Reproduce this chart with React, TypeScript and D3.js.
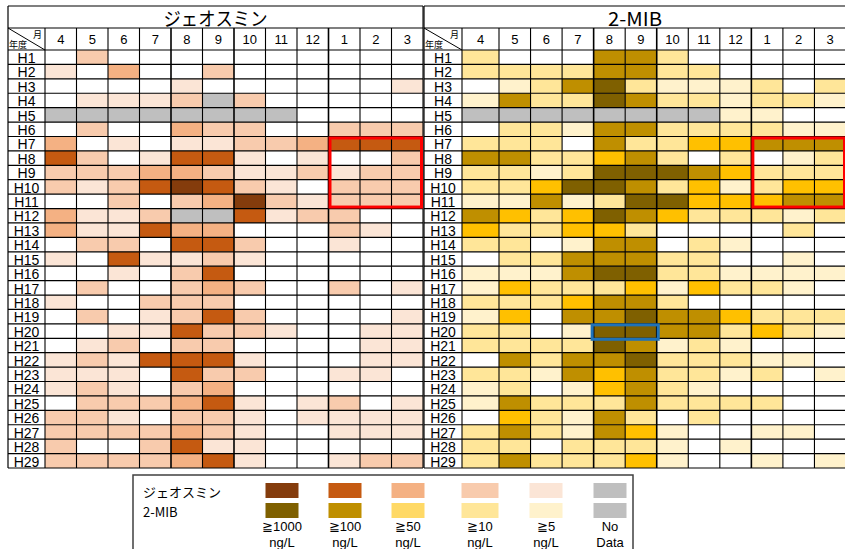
import React from "react";
import * as d3 from "d3";

const months = ["4", "5", "6", "7", "8", "9", "10", "11", "12", "1", "2", "3"];
const years = Array.from({ length: 29 }, (_, i) => `H${i + 1}`);

// level codes: 0 (<5), 1 (>=5), 2 (>=10), 3 (>=50), 4 (>=100), 5 (>=1000), 9 no data
const geosmin: number[][] = [
  [0, 2, 0, 0, 0, 0, 0, 0, 0, 0, 0, 0],
  [1, 0, 3, 0, 0, 2, 0, 0, 0, 0, 0, 0],
  [0, 0, 0, 0, 1, 0, 0, 0, 0, 0, 0, 1],
  [0, 1, 1, 1, 2, 9, 2, 0, 0, 0, 0, 0],
  [9, 9, 9, 9, 9, 9, 9, 9, 0, 0, 0, 0],
  [0, 2, 0, 0, 3, 2, 2, 0, 0, 2, 2, 2],
  [3, 0, 1, 0, 1, 1, 2, 2, 3, 4, 4, 4],
  [4, 2, 0, 1, 4, 4, 1, 0, 1, 0, 0, 2],
  [2, 2, 2, 3, 3, 2, 1, 1, 2, 1, 2, 2],
  [2, 1, 2, 4, 5, 4, 2, 1, 0, 2, 2, 2],
  [0, 0, 2, 0, 2, 3, 5, 2, 1, 2, 2, 2],
  [3, 1, 1, 2, 9, 9, 4, 1, 2, 2, 0, 0],
  [3, 1, 1, 4, 3, 3, 0, 0, 0, 2, 1, 0],
  [0, 2, 2, 0, 4, 4, 2, 0, 0, 1, 0, 0],
  [1, 0, 4, 1, 1, 2, 1, 0, 0, 0, 0, 0],
  [0, 0, 1, 0, 2, 4, 0, 0, 0, 0, 0, 0],
  [0, 2, 0, 0, 2, 3, 2, 0, 0, 2, 0, 1],
  [1, 0, 0, 2, 2, 2, 0, 0, 0, 0, 0, 0],
  [0, 2, 0, 1, 2, 4, 2, 0, 0, 0, 0, 1],
  [0, 0, 1, 1, 4, 2, 2, 1, 0, 0, 1, 1],
  [0, 1, 2, 0, 2, 2, 0, 0, 0, 0, 1, 1],
  [1, 2, 1, 4, 4, 4, 1, 0, 0, 0, 1, 1],
  [1, 1, 1, 0, 4, 2, 2, 0, 0, 1, 1, 0],
  [1, 2, 1, 0, 2, 3, 0, 0, 0, 0, 0, 0],
  [0, 2, 2, 2, 3, 4, 1, 0, 1, 2, 0, 1],
  [2, 2, 1, 0, 2, 2, 1, 0, 1, 1, 1, 1],
  [2, 2, 2, 2, 3, 2, 1, 0, 0, 1, 1, 1],
  [2, 0, 0, 2, 4, 1, 1, 0, 0, 0, 0, 0],
  [2, 2, 2, 2, 3, 4, 1, 0, 0, 1, 2, 2],
];

const mib: number[][] = [
  [2, 0, 0, 0, 4, 4, 2, 0, 0, 0, 0, 0],
  [2, 2, 2, 2, 4, 4, 2, 2, 0, 0, 0, 0],
  [0, 1, 2, 4, 5, 2, 1, 1, 1, 2, 0, 2],
  [1, 4, 2, 2, 5, 4, 2, 2, 1, 2, 2, 1],
  [9, 9, 9, 9, 9, 9, 9, 9, 1, 1, 0, 0],
  [0, 2, 2, 1, 4, 4, 2, 2, 2, 2, 1, 1],
  [2, 2, 2, 0, 4, 2, 2, 3, 3, 4, 4, 4],
  [4, 4, 2, 2, 3, 4, 2, 0, 2, 0, 1, 2],
  [2, 2, 1, 2, 5, 5, 5, 4, 3, 2, 2, 2],
  [2, 2, 3, 5, 5, 4, 2, 3, 1, 2, 3, 3],
  [1, 1, 4, 1, 2, 5, 5, 3, 3, 3, 4, 4],
  [4, 3, 2, 3, 5, 4, 3, 2, 2, 2, 1, 2],
  [3, 2, 2, 3, 3, 2, 0, 0, 0, 0, 2, 0],
  [2, 2, 0, 1, 4, 4, 0, 2, 1, 0, 0, 0],
  [0, 2, 2, 4, 4, 4, 2, 2, 0, 0, 1, 0],
  [1, 1, 1, 4, 5, 5, 2, 2, 1, 1, 1, 1],
  [1, 3, 2, 2, 2, 3, 1, 3, 2, 2, 1, 0],
  [2, 2, 2, 3, 4, 4, 2, 0, 0, 0, 0, 0],
  [1, 3, 0, 4, 4, 5, 4, 4, 3, 2, 2, 2],
  [2, 2, 0, 1, 5, 5, 4, 4, 2, 3, 2, 1],
  [2, 2, 2, 2, 5, 4, 1, 2, 1, 0, 0, 0],
  [0, 4, 2, 4, 4, 5, 2, 2, 2, 1, 1, 0],
  [2, 2, 1, 4, 3, 4, 2, 2, 1, 2, 0, 1],
  [1, 2, 0, 1, 3, 4, 2, 1, 0, 0, 0, 0],
  [1, 4, 2, 2, 2, 4, 2, 2, 2, 2, 0, 0],
  [0, 3, 2, 1, 4, 2, 0, 2, 0, 0, 0, 0],
  [2, 4, 2, 1, 4, 3, 1, 0, 0, 1, 1, 0],
  [2, 2, 0, 2, 2, 2, 1, 0, 1, 0, 0, 0],
  [2, 4, 2, 2, 2, 3, 1, 0, 0, 1, 0, 1],
];

const levelCodes = [0, 1, 2, 3, 4, 5, 9];
const geoColors = ["#FFFFFF", "#FBE5D6", "#F8CBAD", "#F4B183", "#C55A11", "#843C0C", "#BFBFBF"];
const mibColors = ["#FFFFFF", "#FFF2CC", "#FFE699", "#FFC000", "#BF8F00", "#7F6000", "#BFBFBF"];

const legendLabels = [
  ["≧1000", "ng/L"],
  ["≧100", "ng/L"],
  ["≧50", "ng/L"],
  ["≧10", "ng/L"],
  ["≧5", "ng/L"],
  ["No", "Data"],
];
const legendGeo = ["#843C0C", "#C55A11", "#F4B183", "#F8CBAD", "#FBE5D6", "#BFBFBF"];
const legendMib = ["#7F6000", "#BF8F00", "#FFD966", "#FFE699", "#FFF2CC", "#BFBFBF"];
const legendNames = ["ジェオスミン", "2-MIB"];

const FONT = "'Liberation Sans', Arial, sans-serif";
const JFONT = "'Noto Sans CJK JP', sans-serif";

type TableDef = {
  title: string;
  titleWidth: number;
  data: number[][];
  colors: string[];
  xLeft: number;
  xLabelEnd: number;
  xs: d3.ScaleLinear<number, number>;
};

const yTop = 6;
const yHeader = 28;
const yData = 50;
const yBottom = 468;

function Table({ t }: { t: TableDef }) {
  const y = d3.scaleBand<string>().domain(years).range([yData, yBottom]).padding(0);
  const color = d3.scaleOrdinal<number, string>().domain(levelCodes).range(t.colors);
  const xEnd = t.xs(12);
  const xCenter = (i: number) => (t.xs(i) + t.xs(i + 1)) / 2;
  const rowLines = years.map((yr) => y(yr)!).concat([yBottom]);
  const colLines = d3.range(13).map((i) => t.xs(i));
  const labelCx = (t.xLeft + t.xLabelEnd) / 2;
  return (
    <g>
      {t.data.map((row, ri) =>
        row.map((v, ci) => (
          <rect
            key={`${ri}-${ci}`}
            x={t.xs(ci)}
            y={y(years[ri])!}
            width={t.xs(ci + 1) - t.xs(ci)}
            height={y.bandwidth()}
            fill={color(v)}
          />
        ))
      )}
      <text
        x={(t.xLeft + xEnd) / 2}
        y={yHeader - 2}
        textAnchor="middle"
        fontSize={19}
        fontFamily={JFONT}
        fill="#000"
        textLength={t.titleWidth}
        lengthAdjust="spacingAndGlyphs"
      >
        {t.title}
      </text>
      {months.map((m, i) => (
        <text key={m} x={xCenter(i)} y={yHeader + 16} textAnchor="middle" fontSize={13} fontFamily={FONT} fill="#000">
          {m}
        </text>
      ))}
      <line x1={t.xLeft} y1={yHeader} x2={t.xLabelEnd} y2={yData} stroke="#000" strokeWidth={1} />
      <text x={t.xLabelEnd - 3} y={yHeader + 10} textAnchor="end" fontSize={9} fontFamily={JFONT}>月</text>
      <text x={t.xLeft + 1} y={yData - 2} fontSize={9} fontFamily={JFONT}>年度</text>
      {years.map((yr) => (
        <text key={yr} x={labelCx} y={y(yr)! + y.bandwidth() - 1.5} textAnchor="middle" fontSize={14} fontFamily={FONT} fill="#000">
          {yr}
        </text>
      ))}
      {rowLines.map((ly, i) => (
        <line key={`h${i}`} x1={t.xLeft} x2={xEnd} y1={ly} y2={ly} stroke="#000" strokeWidth={1.2} />
      ))}
      <line x1={t.xLeft} x2={xEnd} y1={yTop} y2={yTop} stroke="#000" strokeWidth={1.2} />
      <line x1={t.xLeft} x2={xEnd} y1={yHeader} y2={yHeader} stroke="#000" strokeWidth={1.2} />
      {colLines.map((lx, i) => (
        <line key={`v${i}`} x1={lx} x2={lx} y1={i === 12 ? yTop : yHeader} y2={yBottom} stroke="#000" strokeWidth={[4, 6, 9].includes(i) ? 1.6 : 1.1} />
      ))}
      <line x1={t.xLeft} x2={t.xLeft} y1={yTop} y2={yBottom} stroke="#000" strokeWidth={1.2} />
    </g>
  );
}

export default function App() {
  const left: TableDef = {
    title: "ジェオスミン",
    titleWidth: 104,
    data: geosmin,
    colors: geoColors,
    xLeft: 8,
    xLabelEnd: 45,
    xs: d3.scaleLinear().domain([0, 12]).range([45, 423]),
  };
  const right: TableDef = {
    title: "2-MIB",
    titleWidth: 54,
    data: mib,
    colors: mibColors,
    xLeft: 424,
    xLabelEnd: 462,
    xs: d3.scaleLinear().domain([0, 1, 12]).range([462, 499, 846]),
  };
  const y = d3.scaleBand<string>().domain(years).range([yData, yBottom]).padding(0);

  const redRect = (t: TableDef) => {
    const x0 = t.xs(9);
    const x1 = t.xs(12);
    const y0 = y("H7")!;
    const y1 = y("H11")! + y.bandwidth();
    return <rect x={x0 + 1.5} y={y0 + 1.5} width={x1 - x0 - 3} height={y1 - y0 - 3} fill="none" stroke="#FF0000" strokeWidth={3} />;
  };
  const blueX0 = right.xs(4);
  const blueX1 = right.xs(6);
  const blueY0 = y("H20")!;

  const swatchCenters = [282, 345, 408, 480, 546, 610];

  return (
    <svg width={845} height={549} style={{ position: "absolute", left: 0, top: 0, background: "#fff" }}>
      <rect x={0} y={0} width={845} height={549} fill="#fff" />
      <Table t={left} />
      <Table t={right} />
      {redRect(left)}
      {redRect(right)}
      <rect x={blueX0 - 1.5} y={blueY0 + 1} width={blueX1 - blueX0 + 3} height={y.bandwidth()} fill="none" stroke="#1F72B8" strokeWidth={3} />
      <rect x={133} y={475} width={500} height={90} fill="#fff" stroke="#404040" strokeWidth={1.5} />
      {legendNames.map((n, i) => (
        <text key={n} x={143} y={497 + i * 20} fontSize={13} fontFamily={JFONT} fill="#000">
          {n}
        </text>
      ))}
      {legendLabels.map((lab, i) => {
        const cx = swatchCenters[i];
        const w = i === 3 ? 37 : 33;
        return (
          <g key={i}>
            <rect x={cx - w / 2} y={483} width={w} height={15} fill={legendGeo[i]} />
            <rect x={cx - w / 2} y={503} width={w} height={15} fill={legendMib[i]} />
            <text x={cx} y={531} textAnchor="middle" fontSize={13} fontFamily={FONT}>{lab[0]}</text>
            <text x={cx} y={547} textAnchor="middle" fontSize={13} fontFamily={FONT}>{lab[1]}</text>
          </g>
        );
      })}
    </svg>
  );
}
